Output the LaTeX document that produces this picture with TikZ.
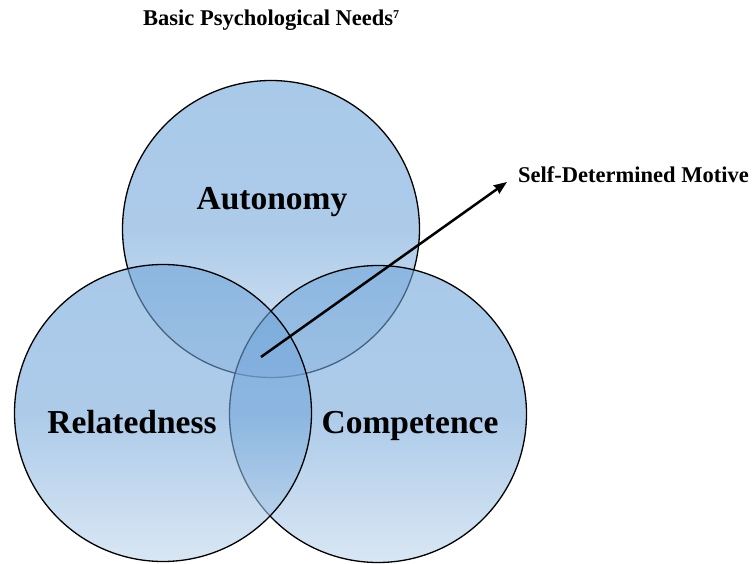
\documentclass[tikz,border=0pt]{standalone}
\usepackage{fontspec}
\setmainfont{Liberation Serif}
\usetikzlibrary{arrows.meta}
\definecolor{needtop}{RGB}{112,165,218}
\definecolor{needmid}{RGB}{118,168,219}
\definecolor{needbot}{RGB}{192,214,236}
\tikzset{
  need/.style={circle, draw=black, line width=1.3pt, inner sep=0pt,
    minimum size=297pt, top color=needtop, bottom color=needbot,
    middle color=needmid, fill opacity=0.6},
  needlabel/.style={font=\fontsize{33.5}{36}\selectfont\bfseries, anchor=base, inner sep=0pt},
  smalllabel/.style={font=\fontsize{22.5}{25}\selectfont\bfseries, inner sep=0pt},
  motive/.style={line width=2.5pt, -{Stealth[length=13pt, width=10pt, inset=1pt]}}
}
\newcommand{\notemark}[1]{\raisebox{7pt}{\fontsize{12}{12}\selectfont #1}}
\begin{document}
\begin{tikzpicture}[x=1pt, y=-1pt]
\useasboundingbox (0,0) rectangle (753,564);
% the three needs, stacked top, right, left
\node[need] (autonomy) at (271,229) {};
\node[need] (competence) at (378,414) {};
\node[need] (relatedness) at (163,413) {};
% labels
\node[smalllabel, anchor=base west] (title) at (143,26) {Basic Psychological Needs\notemark{7}};
\node[needlabel] (lautonomy) at (272,210) {Autonomy};
\node[needlabel] (lrelatedness) at (132,433) {Relatedness};
\node[needlabel] (lcompetence) at (410,433) {Competence};
\node[smalllabel, anchor=base west] (selfdet) at (518,183) {Self-Determined Motive};
% arrow out of the common core
\coordinate (core) at (261,357);
\coordinate (tip) at (507,182);
\draw[motive] (core) -- (tip);
\end{tikzpicture}
\end{document}
